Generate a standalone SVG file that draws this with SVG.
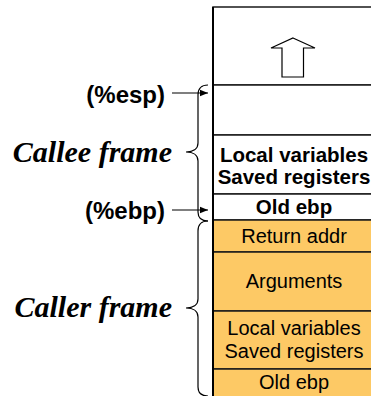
<svg xmlns="http://www.w3.org/2000/svg" width="371" height="396" viewBox="0 0 371 396">
  <style>
    .cell { stroke: #1a1a1a; stroke-width: 1.5; }
    .blank { fill: #ffffff; }
    .caller { fill: #fdc965; }
    .bold { font-family: "Liberation Sans", Arial, sans-serif; font-weight: bold; font-size: 20.5px; fill: #000; text-anchor: middle; }
    .plain { font-family: "Liberation Sans", Arial, sans-serif; font-size: 20px; fill: #000; text-anchor: middle; }
    .reg { font-family: "Liberation Sans", Arial, sans-serif; font-weight: bold; font-size: 24px; fill: #000; text-anchor: end; }
    .frame { font-family: "Liberation Serif", "Times New Roman", serif; font-weight: bold; font-style: italic; font-size: 30px; fill: #000; text-anchor: end; }
    .brace { fill: none; stroke: #000; stroke-width: 1.2; }
    .ptr { fill: none; stroke: #000; stroke-width: 1.2; }
  </style>
  <defs>
    <marker id="head" markerWidth="8" markerHeight="8" refX="8" refY="4" orient="auto" markerUnits="userSpaceOnUse">
      <path d="M0,0.8 L8,4 L0,7.2 Z" fill="#000"/>
    </marker>
  </defs>

  <rect width="371" height="396" fill="#ffffff"/>

  <!-- free space above the stack top, growth direction -->
  <g id="free-space">
    <rect class="cell blank" x="213" y="7" width="170" height="78"/>
    <path d="M293,38 L315,48 L303.5,48 L303.5,77 L282,77 L282,48 L271,48 Z" fill="#fff" stroke="#000" stroke-width="1.2"/>
  </g>

  <g id="callee-top">
    <rect class="cell blank" x="213" y="85" width="170" height="50"/>
  </g>

  <g id="callee-locals">
    <rect class="cell blank" x="213" y="135" width="170" height="59"/>
    <text class="bold" x="294" y="162">Local variables</text>
    <text class="bold" x="294" y="184">Saved registers</text>
  </g>

  <g id="callee-old-ebp">
    <rect class="cell blank" x="213" y="194" width="170" height="26"/>
    <text class="bold" x="294" y="214">Old ebp</text>
  </g>

  <g id="return-addr">
    <rect class="cell caller" x="213" y="220" width="170" height="32"/>
    <text class="plain" x="294" y="243">Return addr</text>
  </g>

  <g id="arguments">
    <rect class="cell caller" x="213" y="252" width="170" height="59"/>
    <text class="plain" x="294" y="288">Arguments</text>
  </g>

  <g id="caller-locals">
    <rect class="cell caller" x="213" y="311" width="170" height="58"/>
    <text class="plain" x="294" y="335">Local variables</text>
    <text class="plain" x="294" y="358">Saved registers</text>
  </g>

  <g id="caller-old-ebp">
    <rect class="cell caller" x="213" y="369" width="170" height="40"/>
    <text class="plain" x="294" y="389">Old ebp</text>
  </g>

  <!-- left edge of the stack drawn heavier -->
  <line x1="213" y1="7" x2="213" y2="396" stroke="#000" stroke-width="2"/>

  <g id="callee-frame">
    <path class="brace" d="M208,85 C201,85 198,88 198,95 L198,143 C198,149 193,152 186,152 C193,152 198,155 198,161 L198,212 C198,218 201,221 208,221"/>
    <text class="frame" x="172" y="162">Callee frame</text>
  </g>

  <g id="caller-frame">
    <path class="brace" d="M208,221 C201,221 198,224 198,231 L198,299 C198,305 193,308 186,308 C193,308 198,311 198,317 L198,387 C198,393 201,396 208,396"/>
    <text class="frame" x="172" y="317">Caller frame</text>
  </g>

  <g id="esp">
    <text class="reg" x="165" y="103">(%esp)</text>
  </g>

  <g id="ebp">
    <text class="reg" x="165" y="219">(%ebp)</text>
  </g>

  <g id="connectors">
    <line class="ptr" x1="172" y1="93" x2="208" y2="93" marker-end="url(#head)"/>
    <line class="ptr" x1="172" y1="210" x2="208" y2="210" marker-end="url(#head)"/>
  </g>
</svg>
